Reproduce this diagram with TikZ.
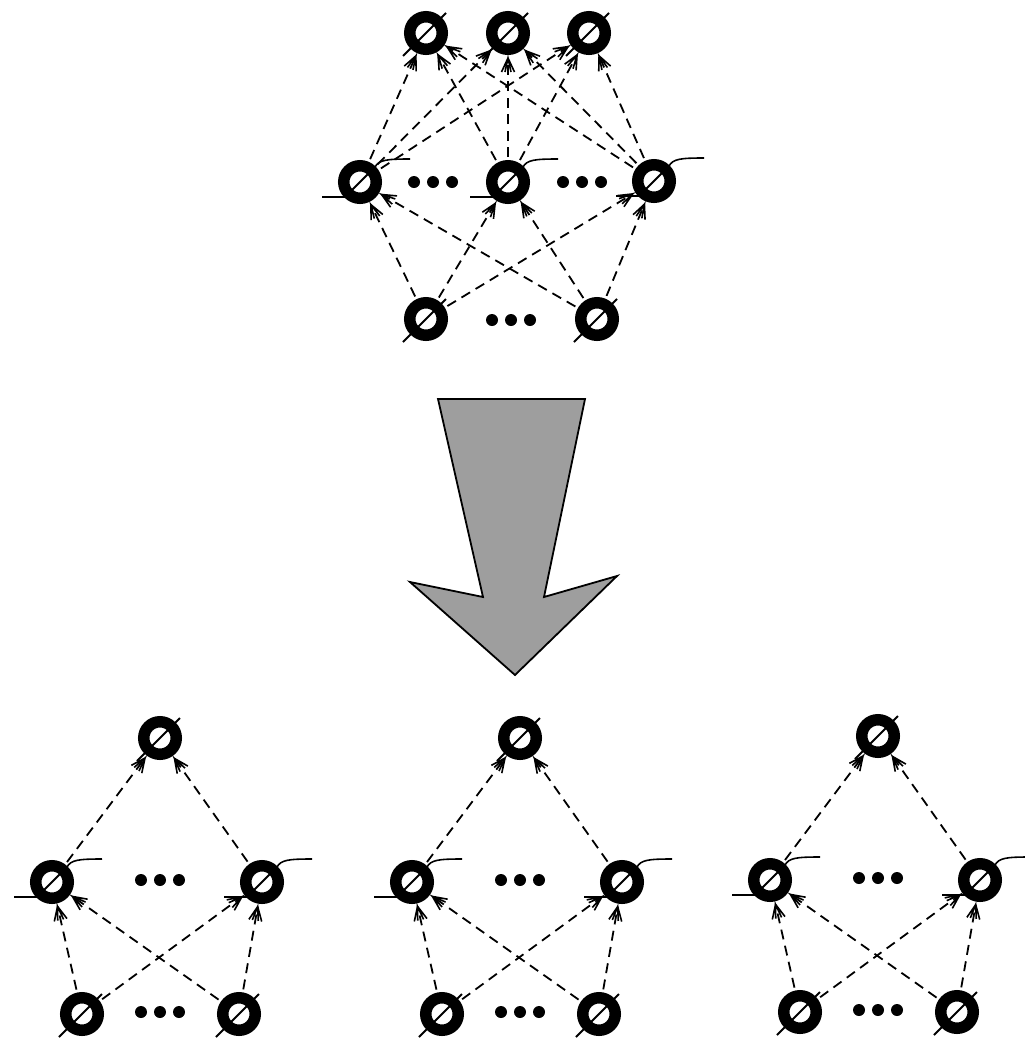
\documentclass[tikz,border=0pt]{standalone}
\usetikzlibrary{decorations.markings}
\tikzset{
  unit/.style={circle, minimum size=50pt, inner sep=0pt, outer sep=0pt},
  ring/.style={line width=11.5pt},
  slash/.style={line width=2pt},
  wire/.style={line width=1.6pt},
  conn/.style={line width=1.8pt, dash pattern=on 10pt off 6.5pt,
    postaction={decorate},
    decoration={markings, mark=at position 0.9999 with {
      \draw[solid, line width=1.6pt] (-14pt,6.5pt) -- (0pt,0pt) -- (-14pt,-6.5pt)
        (-14pt,3pt) -- (0pt,0pt) -- (-14pt,-3pt);}}},
  bigarrow/.style={draw=black, line width=1.8pt, fill=black!38, line join=miter},
}
\begin{document}
\begin{tikzpicture}[x=1pt, y=-1pt]
\useasboundingbox (0,0) rectangle (1025,1042);

% ---------- top network ----------
\node[unit] (t1) at (426,33) {};
\node[unit] (t2) at (508,33) {};
\node[unit] (t3) at (589,33) {};
\node[unit] (m1) at (360,182) {};
\node[unit] (m2) at (508,182) {};
\node[unit] (m3) at (654,181) {};
\node[unit] (b1) at (426,319) {};
\node[unit] (b2) at (597,319) {};
\coordinate (dm1) at (433,182);
\coordinate (dm2) at (582,182);
\coordinate (db) at (511,320);

\foreach \i in {1,2,3}
  \foreach \j in {1,2,3}
    \draw[conn] (m\i) -- (t\j);
\foreach \k in {1,2}
  \foreach \i in {1,2,3}
    \draw[conn] (b\k) -- (m\i);

% ---------- big arrow ----------
\path[bigarrow] (438,399) -- (585,399) -- (544,597) -- (617,576) -- (515,675)
  -- (410,582) -- (483,597) -- cycle;

% ---------- three sub-networks ----------
\foreach \g/\dx/\dy in {1/0/0, 2/360/0, 3/718/-2} {
  \begin{scope}[shift={(\dx,\dy)}]
    \node[unit] (gt\g) at (160,738) {};
    \node[unit] (gl\g) at (52,882) {};
    \node[unit] (gr\g) at (262,882) {};
    \node[unit] (gbl\g) at (82,1014) {};
    \node[unit] (gbr\g) at (239,1014) {};
    \coordinate (gdm\g) at (160,880);
    \coordinate (gdb\g) at (160,1012);
  \end{scope}
  \draw[conn] (gl\g) -- (gt\g);
  \draw[conn] (gr\g) -- (gt\g);
  \draw[conn] (gbl\g) -- (gl\g);
  \draw[conn] (gbl\g) -- (gr\g);
  \draw[conn] (gbr\g) -- (gl\g);
  \draw[conn] (gbr\g) -- (gr\g);
}

% ---------- rings ----------
\foreach \n in {t1,t2,t3,m1,m2,m3,b1,b2,gt1,gt2,gt3,gl1,gl2,gl3,gr1,gr2,gr3,gbl1,gbl2,gbl3,gbr1,gbr2,gbr3}
  \draw[ring] (\n.center) circle (16.25pt);

% ---------- slashes through outer units ----------
\foreach \n in {t1,t2,t3,b1,b2,gt1,gt2,gt3,gbl1,gbl2,gbl3,gbr1,gbr2,gbr3}
  \draw[slash] ([shift={(-23,23)}]\n.center) -- ([shift={(20,-20)}]\n.center);

% ---------- hidden units: inner slash and wires ----------
\foreach \n in {m1,m2,m3,gl1,gr1,gl2,gr2,gl3,gr3} {
  \draw[slash] ([shift={(-9,9)}]\n.center) -- ([shift={(9,-9)}]\n.center);
  \draw[wire] ([shift={(-38,15)}]\n.center) -- ([shift={(-15,15)}]\n.center);
  \draw[wire] ([shift={(15,-15)}]\n.center) .. controls ([shift={(19,-22)}]\n.center)
    and ([shift={(26,-23)}]\n.center) .. ([shift={(50,-23)}]\n.center);
}

% ---------- ellipsis dots ----------
\foreach \c in {dm1,dm2,db,gdm1,gdb1,gdm2,gdb2,gdm3,gdb3}
  \foreach \x in {-19,0,19}
    \fill ([xshift=\x pt]\c) circle (6pt);
\end{tikzpicture}
\end{document}
